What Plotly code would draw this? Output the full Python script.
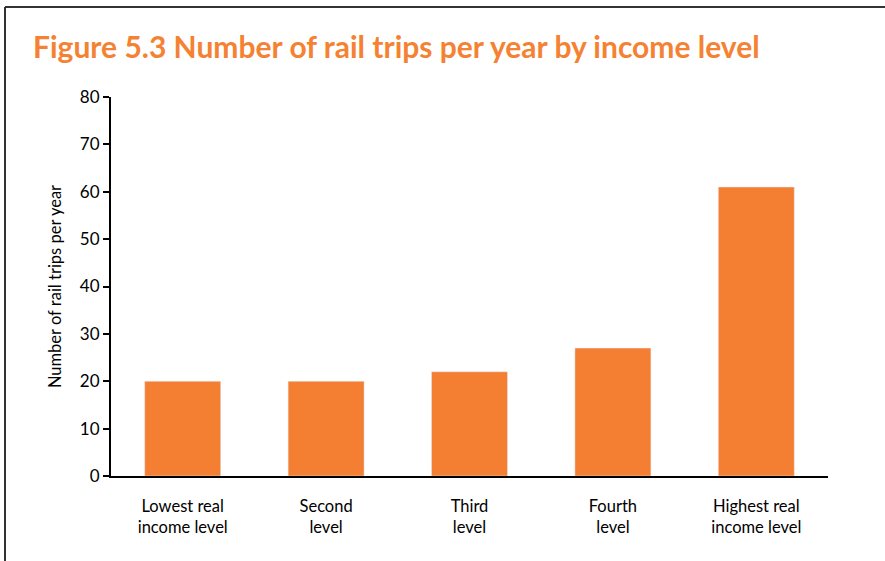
import plotly.graph_objects as go

categories = ["Lowest real<br>income level", "Second<br>level", "Third<br>level", "Fourth<br>level", "Highest real<br>income level"]
values = [20, 20, 22, 27, 61]
y_ticks = [0, 10, 20, 30, 40, 50, 60, 70, 80]

W, H = 885, 561
L, R, T, B = 111, 57, 97, 85
pw = W - L - R
ph = H - T - B

def px_x(x):
    return (x - L) / pw

def px_y(y):
    return (H - B - y) / ph

fig = go.Figure(go.Bar(
    x=categories, y=values, marker_color="#F47F32", width=0.53,
))

fig.update_layout(
    width=W, height=H,
    margin=dict(l=L, r=R, t=T, b=B),
    plot_bgcolor="white", paper_bgcolor="white",
    showlegend=False,
    font=dict(family="Lato, Open Sans, sans-serif", color="black", size=16),
    xaxis=dict(showline=True, linecolor="black", linewidth=2, ticks="",
               showgrid=False, tickfont=dict(size=16.5), ticklabelstandoff=14),
    yaxis=dict(range=[0, 80], tickvals=y_ticks, showline=True, linecolor="black",
               linewidth=2, ticks="outside", ticklen=6, tickwidth=2, tickcolor="black",
               showgrid=False, zeroline=False, tickfont=dict(size=17),
               title=dict(text="Number of rail trips per year", font=dict(size=16.5), standoff=14)),
    annotations=[dict(
        text="<b>Figure 5.3 Number of rail trips per year by income level</b>",
        xref="paper", yref="paper", x=px_x(31), y=px_y(46),
        xanchor="left", yanchor="middle", showarrow=False,
        font=dict(size=30, color="#F58232", family="Lato, Open Sans, sans-serif"),
    )],
    shapes=[
        dict(type="line", xref="paper", yref="paper", x0=px_x(5), x1=px_x(890),
             y0=px_y(7), y1=px_y(7), line=dict(color="#333333", width=2)),
        dict(type="line", xref="paper", yref="paper", x0=px_x(5), x1=px_x(5),
             y0=px_y(7), y1=px_y(570), line=dict(color="#333333", width=2)),
    ],
)

fig.write_html("out.html")
